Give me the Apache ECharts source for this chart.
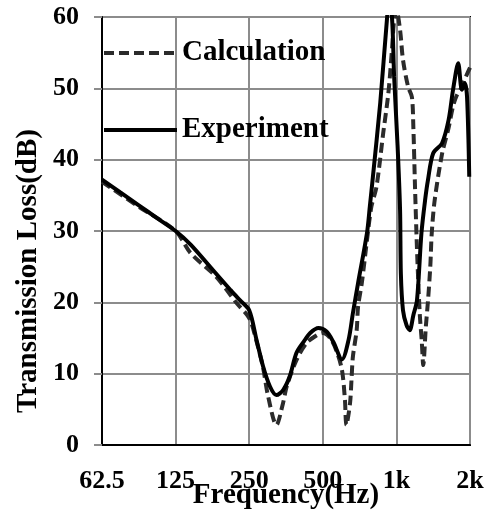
<!DOCTYPE html>
<html>
<head>
<meta charset="utf-8">
<script src="https://cdn.jsdelivr.net/npm/echarts@6/dist/echarts.min.js"></script>
<style>
  html, body { margin: 0; padding: 0; background: #fff; }
  #chart { width: 489px; height: 520px; }
</style>
</head>
<body>
<div id="chart"></div>
<script>
// octave band labels on the x axis (62.5 Hz .. 2 kHz)
const bandLabels = ['62.5', '125', '250', '500', '1k', '2k'];
const baseFreq = 62.5;

// calculation (dashed)
const calcFreq = [62.5, 88.4, 125, 144, 183, 222, 250, 268, 285, 298, 323, 344, 356, 390, 429, 473, 500, 536, 570, 599,
  616, 624, 646, 655, 664, 688, 697, 722, 758, 790, 829, 883, 927, 959, 979, 1000, 1035, 1064, 1117, 1157,
  1173, 1192, 1211, 1230, 1248, 1270, 1288, 1319, 1347, 1376, 1395, 1434, 1537, 1636, 1705, 1765, 1853, 1905, 2000];
const calcTL = [36.9, 33.4, 30.0, 26.9, 23.6, 19.9, 17.8, 14.5, 10.8, 7.0, 2.8, 5.9, 8.2, 11.9, 14.3, 15.4, 15.7, 15.0, 13.1, 10.5,
  6.3, 2.8, 5.8, 9.1, 12.4, 16.1, 19.4, 22.7, 28.7, 33.4, 36.2, 43.7, 49.3, 55.4, 59.6, 61, 58.2, 54, 50.2, 48.8,
  44.6, 36, 28.5, 22.5, 18, 14.5, 11.2, 16.5, 20.3, 25, 29.7, 34.3, 40.8, 44.5, 47.5, 49, 50.2, 51.3, 52.9];

// experiment (solid)
const expFreq = [62.5, 74.3, 88.4, 105, 125, 144, 178, 210, 229, 250, 268, 285, 304, 323, 344, 366, 390, 418, 444, 480,
  518, 551, 599, 637, 664, 697, 758, 779, 801, 859, 914, 932, 959, 979, 1011, 1035, 1043, 1064, 1100, 1133,
  1173, 1214, 1266, 1310, 1347, 1414, 1537, 1636, 1705, 1790, 1853, 1905, 1945, 1986];
const expTL = [37.2, 35.4, 33.6, 31.8, 30.0, 28.1, 24.5, 21.7, 20.3, 18.9, 14.7, 11.0, 8.2, 7.0, 7.7, 9.6, 12.9, 14.5, 15.7, 16.4,
  15.9, 14.5, 12.0, 14.7, 18.5, 22.7, 29.7, 33.5, 37.5, 48, 59.5, 62, 60, 51.6, 42, 33, 24, 18.9, 16.8, 16.1,
  18.2, 20.3, 29.7, 34.3, 37.2, 40.9, 42.3, 45.6, 49.8, 53.5, 49.8, 50.7, 48.8, 37.6];

// x axis is in octaves above 62.5 Hz
function toPoints(freq, tl) {
  return freq.map((f, i) => [Math.log2(f / baseFreq), tl[i]]);
}

const font = '"Liberation Serif", "Times New Roman", serif';
const gridGray = '#8c8c8c';

const chart = echarts.init(document.getElementById('chart'));
chart.setOption({
  animation: false,
  grid: {
    left: 102, right: 19, top: 17, bottom: 75,
    outerBoundsMode: 'none',
    show: true,
    borderColor: '#000',
    borderWidth: 2
  },
  legend: {
    orient: 'vertical',
    left: 102,
    top: 38,
    padding: 0,
    itemWidth: 73,
    itemHeight: 14,
    itemGap: 47,
    data: ['Calculation', 'Experiment'],
    itemStyle: { opacity: 0 },
    lineStyle: { width: 4 },
    textStyle: { fontFamily: font, fontWeight: 'bold', fontSize: 29, color: '#000', lineHeight: 30 }
  },
  xAxis: {
    type: 'value',
    min: 0,
    max: 5,
    interval: 1,
    name: 'Frequency(Hz)',
    nameLocation: 'middle',
    nameGap: 36,
    nameMoveOverlap: false,
    nameTextStyle: { fontFamily: font, fontWeight: 'bold', fontSize: 29, color: '#000' },
    axisLine: { show: true, lineStyle: { color: '#000', width: 2 } },
    axisTick: { show: false },
    axisLabel: {
      margin: 23,
      fontFamily: font, fontWeight: 'bold', fontSize: 26, color: '#000',
      formatter: v => bandLabels[Math.round(v)]
    },
    splitLine: { show: true, lineStyle: { color: gridGray, width: 2 } }
  },
  yAxis: {
    type: 'value',
    min: 0,
    max: 60,
    interval: 10,
    axisLine: { show: true, lineStyle: { color: '#000', width: 2 } },
    axisTick: { show: true, length: 8, lineStyle: { color: gridGray, width: 2 } },
    axisLabel: { margin: 23, fontFamily: font, fontWeight: 'bold', fontSize: 26, color: '#000' },
    splitLine: { show: true, lineStyle: { color: gridGray, width: 2 } }
  },
  graphic: [{
    type: 'text',
    x: 29,
    y: 271,
    rotation: Math.PI / 2,
    style: {
      text: 'Transmission Loss(dB)',
      font: 'bold 29px ' + font,
      fill: '#000',
      align: 'center',
      verticalAlign: 'middle'
    }
  }],
  series: [
    {
      name: 'Calculation',
      type: 'line',
      symbol: 'none',
      smooth: 0.3,
      clip: true,
      lineStyle: { color: '#2b2b2b', width: 4, type: [10, 5] },
      itemStyle: { color: '#2b2b2b' },
      data: toPoints(calcFreq, calcTL)
    },
    {
      name: 'Experiment',
      type: 'line',
      symbol: 'none',
      smooth: 0.3,
      clip: true,
      lineStyle: { color: '#000', width: 4 },
      itemStyle: { color: '#000' },
      data: toPoints(expFreq, expTL)
    }
  ]
});
</script>
</body>
</html>
